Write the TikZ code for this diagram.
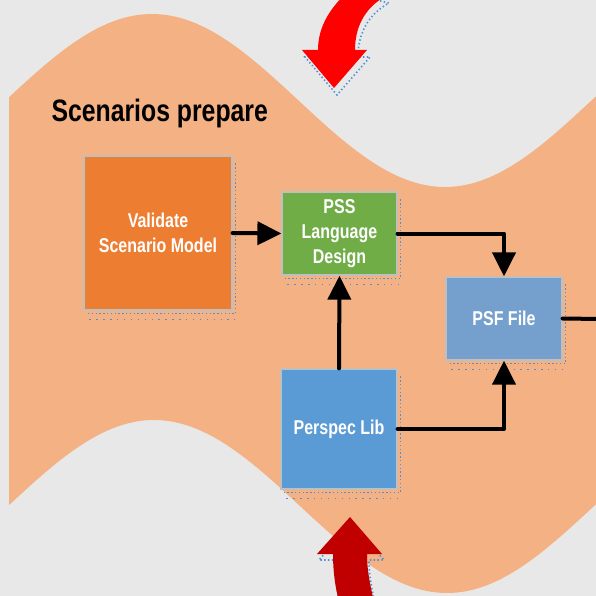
\documentclass[tikz,border=0pt]{standalone}
\usepackage{fontspec}
\setmainfont[FakeStretch=0.8]{Liberation Sans}
\usetikzlibrary{arrows.meta}

\definecolor{bgray}{HTML}{E8E8E8}
\definecolor{peach}{HTML}{F4B183}
\definecolor{orangebox}{HTML}{ED7D31}
\definecolor{greenbox}{HTML}{70AD47}
\definecolor{psfblue}{HTML}{759FCD}
\definecolor{libblue}{HTML}{5B9BD5}
\definecolor{rimgray}{HTML}{BFBFBF}
\definecolor{dotblue}{HTML}{4F8FD8}
\definecolor{brightred}{HTML}{FF0000}
\definecolor{darkred}{HTML}{C00000}

\tikzset{
  stagebox/.style={draw=rimgray, line width=1.2pt, text=white, align=center,
    font=\bfseries\fontsize{20}{25}\selectfont, inner sep=0pt},
  dotrow/.style={draw=dotblue, line width=1.6pt, dash pattern=on 1.4pt off 2.4pt},
  dotrowsparse/.style={draw=dotblue, line width=1.6pt, dash pattern=on 1.4pt off 5.5pt},
  flow/.style={line width=4pt, line join=round, line cap=round},
  flowarrow/.style={flow, -{Triangle[length=24pt,width=23pt]}},
}

\begin{document}
\begin{tikzpicture}[x=1pt, y=-1pt]
\useasboundingbox (0,0) rectangle (596,596);
\clip (0,0) rectangle (596,596);

% backdrop
\fill[bgray] (0,0) rectangle (596,596);

% wavy stage band (one wave period = 586pt, 360/586 = 0.61433)
\fill[peach]
  plot[domain=9:600, samples=150] (\x,{100.5-86.5*cos(0.61433*(\x-152))})
  -- plot[domain=600:9, samples=150] (\x,{506.5-86.5*cos(0.61433*(\x-154))})
  -- cycle;

% title
\node[anchor=base west, font=\bfseries\fontsize{31}{36}\selectfont] (title)
  at (48,122) {Scenarios prepare};

% incoming arrow from above: dotted shadow, then the arrow
\def\toparrow{(318,50) .. controls (318,25) and (332,5) .. (352,-12)
  -- (386,-4) .. controls (364,8) and (355,28) .. (355,50)
  -- (367,50) -- (334,88) -- (302,50) -- cycle}
\draw[dotrow, shift={(3,7)}] \toparrow;
\fill[brightred] \toparrow;

% outgoing arrow towards below
\def\botarrow{(333,554) .. controls (333,574) and (336,590) .. (339,602)
  -- (374,602) .. controls (371,588) and (367,572) .. (367,554)
  -- (382,554) -- (350,517) -- (317,554) -- cycle}
\draw[dotrow, shift={(2,6)}] \botarrow;
\fill[darkred] \botarrow;

% stage boxes
\node[stagebox, fill=orangebox, minimum width=148pt, minimum height=154pt]
  (val) at (158,233) {Validate\\Scenario Model};
\node[stagebox, fill=greenbox, minimum width=115pt, minimum height=83pt]
  (pss) at (339.5,233.5) {PSS\\Language\\Design};
\node[stagebox, fill=psfblue, minimum width=116pt, minimum height=83pt]
  (psf) at (504,318.5) {PSF File};
\node[stagebox, fill=libblue, minimum width=116pt, minimum height=120pt]
  (lib) at (339,429) {Perspec Lib};

% dotted drop shadows on the boxes
\foreach \b in {val,pss,psf,lib}{
  \draw[dotrow] ([xshift=3pt,yshift=-8pt]\b.north east) |- ([xshift=3pt,yshift=-3pt]\b.south west);
  \draw[dotrowsparse] ([xshift=6pt,yshift=-9pt]\b.south west) -- ([xshift=2pt,yshift=-9pt]\b.south east);
}

% connectors
\coordinate (exit) at (600,319);
\draw[flowarrow] (val.east) -- (pss.west);
\draw[flowarrow] (pss.east) -| (psf.north);
\draw[flowarrow] (lib.north) -- (pss.south);
\draw[flowarrow] (lib.east) -| (psf.south);
\draw[flow] (psf.east) -- (exit);
\end{tikzpicture}
\end{document}
